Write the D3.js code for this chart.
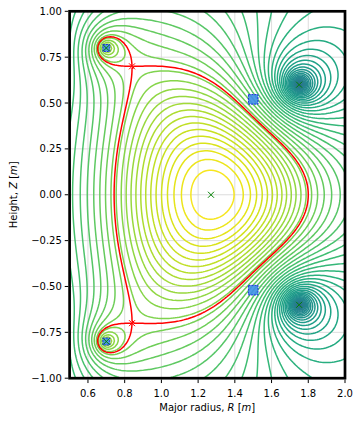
<!DOCTYPE html>
<html>
<head>
<meta charset="utf-8">
<script src="https://cdn.jsdelivr.net/npm/d3@7"></script>
<style>
body { margin: 0; background: #fff; }
text { font-family: "DejaVu Sans", sans-serif; font-size: 10px; fill: #000; }
</style>
</head>
<body>
<svg id="chart" width="361" height="423"></svg>
<script>
// ---- values ----
var xTicks = [0.6, 0.8, 1.0, 1.2, 1.4, 1.6, 1.8, 2.0];
var yTicks = [1.0, 0.75, 0.5, 0.25, 0.0, -0.25, -0.5, -0.75, -1.0];

// plasma current region: centre R, minor radius, elongation, triangularity
var plasmaShape = [1.25, 0.545, 1.26, 0.75];
var plasmaPeaking = 1.0;

// coil pairs (mirrored in Z): R, Z, core radius
var coilR = [0.70, 1.75, 0.25];
var coilZ = [0.80, 0.60, 0.75];
var coilCore = [0.02, 0.012, 0.05];

// coils drawn as squares
var squareR = [0.70, 0.70, 1.50, 1.50];
var squareZ = [0.80, -0.80, 0.52, -0.52];
var squareSide = [0.038, 0.038, 0.052, 0.052];

// x-points, o-points, separatrix crossing of the outer midplane
var xptR = [0.84, 0.84], xptZ = [0.70, -0.70];
var optR = [1.27, 0.70, 0.70, 1.75, 1.75], optZ = [0.0, 0.80, -0.80, 0.60, -0.60];
var sepOuterR = 1.80;

// contour levels: how many, and where the separatrix sits on the colour scale
var nLevels = 73;
var sepColour = 0.8;

var svg = d3.select("#chart");
var pL = 69.6, pR = 345, pT = 11.3, pB = 378.2;
var x = d3.scaleLinear().domain([0.5, 2.0]).range([pL, pR]);
var y = d3.scaleLinear().domain([-1, 1]).range([pB, pT]);

// flux of a circular filament, per unit current
function greens(R, Z, Rc, Zc, e2) {
  var dz = Z - Zc, s = (R + Rc) * (R + Rc) + dz * dz + e2;
  var m = 4 * R * Rc / s;
  var a = 1, b = Math.sqrt(1 - m), c, an, sum = 0.5 * m, p = 0.5;
  for (var i = 0; i < 12; i++) {
    c = (a - b) / 2; an = (a + b) / 2; b = Math.sqrt(a * b); a = an;
    p *= 2; sum += p * c * c;
    if (c < 1e-10) break;
  }
  var K = Math.PI / (2 * a), E = K * (1 - sum);
  return Math.sqrt(R * Rc) * ((2 - m) * K - 2 * E) / Math.sqrt(m);
}

function dShape(rho, th) {
  var R0 = plasmaShape[0], a = plasmaShape[1], k = plasmaShape[2], d = plasmaShape[3];
  return [R0 + rho * a * Math.cos(th + d * rho * Math.sin(th)), k * rho * a * Math.sin(th)];
}

// plasma filaments
var filR = [], filZ = [], filW = [];
var nRho = 14, nTh = 60, dRho = 1 / nRho, dTh = 2 * Math.PI / nTh, wsum = 0;
for (var i = 0; i < nRho; i++) {
  for (var j = 0; j < nTh; j++) {
    var rho = (i + 0.5) * dRho, th = (j + 0.5) * dTh, h = 1e-5;
    var p0 = dShape(rho, th), p1 = dShape(rho + h, th), p2 = dShape(rho, th + h);
    var jac = Math.abs((p1[0] - p0[0]) * (p2[1] - p0[1]) - (p1[1] - p0[1]) * (p2[0] - p0[0])) / (h * h);
    var w = Math.pow(1 - rho * rho, plasmaPeaking) * jac * dRho * dTh;
    filR.push(p0[0]); filZ.push(p0[1]); filW.push(w); wsum += w;
  }
}
for (var i = 0; i < filW.length; i++) filW[i] /= wsum;
var eP = 0.05 * 0.05;

function plasmaPsi(R, Z) {
  var s = 0;
  for (var k = 0; k < filR.length; k++) s += filW[k] * greens(R, Z, filR[k], filZ[k], eP);
  return s;
}
function coilPsi(n, R, Z) {
  var e2 = coilCore[n] * coilCore[n];
  return greens(R, Z, coilR[n], coilZ[n], e2) + greens(R, Z, coilR[n], -coilZ[n], e2);
}

// coil currents: x-point is a saddle, separatrix crosses sepOuterR
var hx = 1e-4, XR = xptR[0], XZ = xptZ[0];
var parts = [plasmaPsi];
coilR.forEach(function(_, n) { parts.push(function(R, Z) { return coilPsi(n, R, Z); }); });
var cond = parts.map(function(f) {
  var fx = f(XR, XZ);
  return [(f(XR + hx, XZ) - f(XR - hx, XZ)) / (2 * hx),
          (f(XR, XZ + hx) - f(XR, XZ - hx)) / (2 * hx),
          f(sepOuterR, 0) - fx];
});
function solveN(A, b) {
  var n = b.length;
  var M = A.map(function(r, i) { return r.concat([b[i]]); });
  for (var c = 0; c < n; c++) {
    var piv = c;
    for (var r = c + 1; r < n; r++) if (Math.abs(M[r][c]) > Math.abs(M[piv][c])) piv = r;
    var t = M[c]; M[c] = M[piv]; M[piv] = t;
    for (var r = 0; r < n; r++) if (r !== c) {
      var f = M[r][c] / M[c][c];
      for (var k = c; k <= n; k++) M[r][k] -= f * M[c][k];
    }
  }
  return M.map(function(r, i) { return r[n] / r[i]; });
}
var A = [0, 1, 2].map(function(e) { return cond.slice(1).map(function(c) { return c[e]; }); });
var amps = solveN(A, [0, 1, 2].map(function(e) { return -cond[0][e]; }));

function psiAt(R, Z) {
  var s = plasmaPsi(R, Z);
  for (var n = 0; n < coilR.length; n++) s += amps[n] * coilPsi(n, R, Z);
  return s;
}

// flux on the grid
var nR = 129, nZ = 129, Rmin = 0.5, Rmax = 2.0, Zmin = -1, Zmax = 1;
var dR = (Rmax - Rmin) / (nR - 1), dZ = (Zmax - Zmin) / (nZ - 1);
var psi = new Array(nR * nZ);
for (var j = 0; j <= (nZ - 1) / 2; j++) {
  var Z = Zmax - j * dZ;
  for (var i = 0; i < nR; i++) {
    var v = psiAt(Rmin + i * dR, Z);
    psi[j * nR + i] = v;
    psi[(nZ - 1 - j) * nR + i] = v;
  }
}
var psiX = psiAt(XR, XZ);
var hi = d3.max(psi);
var lo = hi - (hi - psiX) / (1 - sepColour);
var levels = d3.range(nLevels).map(function(k) { return lo + (hi - lo) * k / (nLevels - 1); });
var colour = function(v) { return d3.interpolateViridis((v - lo) / (hi - lo)); };

var proj = d3.geoPath(d3.geoTransform({
  point: function(px, py) {
    this.stream.point(x(Rmin + (px - 0.5) * dR), y(Zmax - (py - 0.5) * dZ));
  }
}));

svg.append("clipPath").attr("id", "plotclip")
  .append("rect").attr("x", pL).attr("y", pT).attr("width", pR - pL).attr("height", pB - pT);

// grid
var grid = svg.append("g").attr("stroke", "#d4d4d4").attr("stroke-width", 0.8);
grid.selectAll(".gx").data(xTicks).enter().append("line")
  .attr("x1", function(d) { return x(d); }).attr("x2", function(d) { return x(d); })
  .attr("y1", pT).attr("y2", pB);
grid.selectAll(".gy").data(yTicks).enter().append("line")
  .attr("y1", function(d) { return y(d); }).attr("y2", function(d) { return y(d); })
  .attr("x1", pL).attr("x2", pR);

var plot = svg.append("g").attr("clip-path", "url(#plotclip)");

plot.selectAll(".level")
  .data(d3.contours().size([nR, nZ]).thresholds(levels)(psi))
  .enter().append("path")
  .attr("d", proj)
  .attr("fill", "none")
  .attr("stroke", function(d) { return colour(d.value); })
  .attr("stroke-width", 1.5);

plot.selectAll(".sep")
  .data(d3.contours().size([nR, nZ]).thresholds([psiX])(psi))
  .enter().append("path")
  .attr("d", proj)
  .attr("fill", "none")
  .attr("stroke", "#ff0000")
  .attr("stroke-width", 1.5);

// coils
plot.selectAll(".coil").data(squareR).enter().append("rect")
  .attr("x", function(d, i) { return x(d - squareSide[i] / 2); })
  .attr("y", function(d, i) { return y(squareZ[i] + squareSide[i] / 2); })
  .attr("width", function(d, i) { return x(d + squareSide[i]) - x(d); })
  .attr("height", function(d, i) { return x(d + squareSide[i]) - x(d); })
  .attr("fill", "#3f8fe8").attr("fill-opacity", 0.9)
  .attr("stroke", "#1a2fe0").attr("stroke-width", 1).attr("stroke-dasharray", "2,1");

function cross(g, rs, zs, col) {
  g.selectAll(null).data(rs).enter().append("path")
    .attr("d", function(d, i) {
      var cx = x(d), cy = y(zs[i]), s = 3;
      return "M" + (cx - s) + "," + (cy - s) + "L" + (cx + s) + "," + (cy + s) +
             "M" + (cx - s) + "," + (cy + s) + "L" + (cx + s) + "," + (cy - s);
    })
    .attr("stroke", col).attr("stroke-width", 1).attr("fill", "none");
}
cross(plot, optR, optZ, "#008000");
cross(plot, xptR, xptZ, "#ff0000");

// frame
svg.append("rect").attr("x", pL).attr("y", pT)
  .attr("width", pR - pL).attr("height", pB - pT)
  .attr("fill", "none").attr("stroke", "#000").attr("stroke-width", 2.7);

// ticks
var sw = 1.35;
svg.selectAll(".xt").data(xTicks).enter().append("line")
  .attr("x1", function(d) { return x(d); }).attr("x2", function(d) { return x(d); })
  .attr("y1", pB + sw).attr("y2", pB + sw + 3.5)
  .attr("stroke", "#000").attr("stroke-width", 1);
svg.selectAll(".xl").data(xTicks).enter().append("text")
  .attr("x", function(d) { return x(d); }).attr("y", 396.7)
  .attr("text-anchor", "middle")
  .text(d3.format(".1f"));
svg.selectAll(".yt").data(yTicks).enter().append("line")
  .attr("y1", function(d) { return y(d); }).attr("y2", function(d) { return y(d); })
  .attr("x1", pL - sw).attr("x2", pL - sw - 3.5)
  .attr("stroke", "#000").attr("stroke-width", 1);
svg.selectAll(".yl").data(yTicks).enter().append("text")
  .attr("x", 61.8).attr("y", function(d) { return y(d) + 3.6; })
  .attr("text-anchor", "end")
  .text(function(d) { return d3.format(".2f")(d).replace("-", "\u2212"); });

var xl = svg.append("text").attr("x", (pL + pR) / 2).attr("y", 410.5).attr("text-anchor", "middle");
xl.append("tspan").text("Major radius, ");
xl.append("tspan").attr("font-style", "italic").text("R");
xl.append("tspan").text(" [");
xl.append("tspan").attr("font-style", "italic").text("m");
xl.append("tspan").text("]");

var yl = svg.append("text").attr("transform", "translate(16.5," + ((pT + pB) / 2) + ") rotate(-90)")
  .attr("text-anchor", "middle");
yl.append("tspan").text("Height, ");
yl.append("tspan").attr("font-style", "italic").text("Z");
yl.append("tspan").text(" [");
yl.append("tspan").attr("font-style", "italic").text("m");
yl.append("tspan").text("]");
</script>
</body>
</html>
